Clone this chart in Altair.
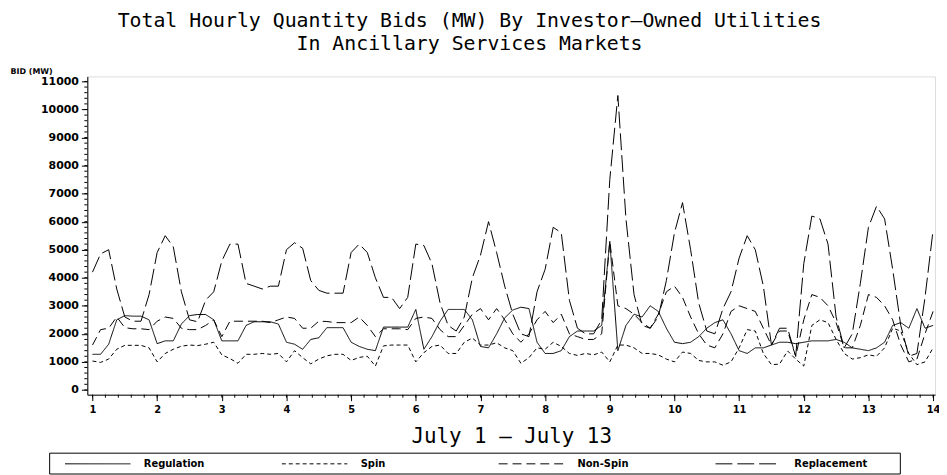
import altair as alt
import pandas as pd

# hour offsets from July 1 00:00 (3-hour sampling)
hours = list(range(0, 313, 3))

series_names = ["Regulation", "Spin", "Non-Spin", "Replacement"]

regulation = [1270, 1270, 1630, 2500, 2650, 2630, 2630, 2500, 1650, 1750,
              1750, 2350, 2650, 2690, 2690, 2500, 1750, 1750, 1750, 2300,
              2430, 2430, 2430, 2350, 1700, 1630, 1450, 1800, 1860, 2220,
              2220, 2220, 1700, 1550, 1450, 1400, 2240, 2240, 2240, 2240,
              2870, 1450, 1900, 2450, 2870, 2870, 2870, 2500, 1550, 1500,
              2000, 2570, 2850, 2950, 2900, 1700, 1300, 1300, 1400, 1900,
              2100, 2100, 2100, 2300, 5300, 1400, 2300, 2700, 2600, 3000,
              2800, 2200, 1700, 1650, 1700, 1900, 2200, 2400, 2500, 2000,
              1400, 1300, 1500, 1500, 1600, 1700, 1700, 1650, 1700, 1750,
              1750, 1750, 1800, 1700, 1500, 1450, 1400, 1500, 1700, 2300,
              2400, 2200, 2900, 2200, 2300]

spin = [1030, 980, 1100, 1450, 1590, 1590, 1590, 1500, 1000, 1300,
        1450, 1560, 1600, 1580, 1630, 1700, 1250, 1120, 950, 1270,
        1270, 1300, 1270, 1300, 1000, 1400, 1150, 930, 1100, 1215,
        1270, 1270, 1050, 1160, 1200, 850, 1570, 1600, 1600, 1600,
        1000, 1330, 1550, 1600, 1300, 1300, 1700, 1850, 1600, 1600,
        1680, 1500, 1400, 950, 1150, 1500, 1450, 1700, 1550, 1300,
        1230, 1300, 1250, 1350, 1000, 1600, 1600, 1500, 1300, 1300,
        1250, 1100, 1000, 1350, 1300, 1050, 1000, 1000, 880, 1000,
        1500, 2150, 2100, 1300, 900, 920, 1390, 1100, 850, 2300,
        2500, 2400, 1800, 1300, 1100, 1150, 1250, 1200, 1500, 2200,
        2100, 1300, 900, 1000, 1500]

non_spin = [1600, 2150, 2200, 2600, 2220, 2180, 2180, 2150, 2450, 2600,
            2550, 2200, 2150, 2150, 2300, 2500, 1900, 2450, 2450, 2450,
            2450, 2450, 2400, 2500, 2600, 2550, 2200, 2200, 2450, 2440,
            2400, 2400, 2400, 2600, 2300, 1900, 2180, 2180, 2180, 2150,
            2550, 2600, 2550, 2150, 1900, 1900, 2300, 2700, 2900, 2500,
            2900, 2500, 2000, 1700, 2000, 2500, 2800, 2400, 2700, 2000,
            1900, 1800, 1800, 2000, 5300, 3000, 2900, 2700, 2400, 2200,
            2700, 3500, 3700, 3300, 2600, 2000, 1600, 1500, 2000, 2800,
            3000, 2900, 2800, 2200, 1600, 2100, 2100, 1200, 2500, 3400,
            3300, 3000, 2400, 1500, 1500, 2300, 3400, 3300, 3000, 2500,
            1600, 1000, 1100, 2000, 2800]

replacement = [4200, 4850, 5000, 3600, 2600, 2450, 2450, 3400, 4900, 5500,
               5100, 3500, 2500, 2430, 3200, 3500, 4600, 5200, 5200, 3800,
               3700, 3600, 3700, 3700, 5000, 5250, 5050, 3900, 3550, 3450,
               3450, 3450, 4900, 5200, 4900, 4000, 3300, 3300, 2900, 3300,
               5200, 5150, 4500, 3100, 2300, 2100, 2600, 4000, 4800, 6000,
               4900, 3700, 2700, 2000, 1900, 3500, 4300, 5800, 5600, 3200,
               2200, 2000, 2000, 2500, 7500, 10500, 6100, 3400, 2300, 2200,
               2600, 3900, 5600, 6680, 5000, 3100, 2100, 2000, 2900, 3500,
               4700, 5500, 5000, 3700, 1600, 2200, 2200, 1200, 4500, 6200,
               6100, 5200, 2600, 1500, 2000, 3800, 5800, 6550, 6100, 4300,
               2300, 1200, 1300, 3300, 5700]

x_major = list(range(1, 15))
y_major = list(range(0, 11001, 1000))

rows = []
for name, vals in zip(series_names, [regulation, spin, non_spin, replacement]):
    for h, v in zip(hours, vals):
        rows.append({"day": 1 + h / 24, "bid": v, "series": name})
df = pd.DataFrame(rows)

x_scale = alt.Scale(domain=[0.92, 14.03], nice=False, zero=False)
y_scale = alt.Scale(domain=[-170, 11180], nice=False, zero=False)

W, H = 855, 321
MONO = "DejaVu Sans Mono"

x_axis = alt.Axis(values=x_major, format="d", title="July 1 \u2014 July 13",
                  titleFont=MONO, titleFontSize=21, titleFontWeight="normal",
                  titleY=48, titleBaseline="alphabetic", titleColor="black",
                  labelFont="DejaVu Sans", labelFontWeight="bold", labelFontSize=10,
                  labelColor="black", labelPadding=4, tickSize=6, tickColor="black",
                  domainColor="black", grid=False, labelFlush=False, labelOverlap=False)
y_axis = alt.Axis(values=y_major, format="d", title="BID (MW)",
                  titleAngle=0, titleX=-78, titleY=-3, titleAlign="left",
                  titleBaseline="alphabetic", titleFont="DejaVu Sans",
                  titleFontWeight="bold", titleFontSize=8, titleColor="black",
                  labelFont="DejaVu Sans", labelFontWeight="bold", labelFontSize=11,
                  labelColor="black", labelPadding=3, tickSize=6, tickColor="black",
                  domainColor="black", grid=False, labelFlush=False, labelOverlap=False)

lines = alt.Chart(df).mark_line(strokeWidth=1, color="black", strokeCap="butt").encode(
    x=alt.X("day:Q", scale=x_scale, axis=x_axis),
    y=alt.Y("bid:Q", scale=y_scale, axis=y_axis),
    strokeDash=alt.StrokeDash("series:N",
                              scale=alt.Scale(domain=series_names,
                                              range=[[1, 0], [4, 3], [9, 5], [17, 5]]),
                              legend=alt.Legend(orient="none", legendX=-23, legendY=357,
                                                direction="horizontal", columns=4,
                                                gridAlign="all", title=None,
                                                symbolType="stroke", symbolSize=4356,
                                                symbolStrokeWidth=1, symbolStrokeColor="black",
                                                labelFont="DejaVu Sans", labelFontWeight="bold",
                                                labelFontSize=10, labelColor="black",
                                                labelOffset=13, columnPadding=62.7,
                                                padding=0, labelLimit=300)),
)

y_minor = pd.DataFrame({"bid": list(range(0, 11001, 200))})
y_ticks = alt.Chart(y_minor).mark_rule(color="black", strokeWidth=1).encode(
    y=alt.Y("bid:Q", scale=y_scale, axis=y_axis), x=alt.value(-3), x2=alt.value(0))

x_minor = pd.DataFrame({"day": [1 + i * 0.2 for i in range(66)]})
x_ticks = alt.Chart(x_minor).mark_rule(color="black", strokeWidth=1).encode(
    x=alt.X("day:Q", scale=x_scale, axis=x_axis), y=alt.value(H), y2=alt.value(H + 3))

box = alt.Chart(pd.DataFrame({"k": [0]})).mark_rect(
    fill="white", fillOpacity=0, stroke="black", strokeWidth=1).encode(
    x=alt.value(-38), x2=alt.value(820), y=alt.value(380), y2=alt.value(401))

chart = alt.layer(box, lines, y_ticks, x_ticks).properties(
    width=W, height=H,
    title=alt.TitleParams(
        text=["Total Hourly Quantity Bids (MW) By Investor\u2013Owned Utilities",
              "In Ancillary Services Markets"],
        font=MONO, fontSize=20, fontWeight="normal", color="black",
        anchor="middle", frame="group", dx=-42, offset=14, lineHeight=23),
    autosize=alt.AutoSizeParams(type="none"),
    padding={"left": 80, "top": 67, "right": 4, "bottom": 79},
).configure_view(stroke=None).configure(background="white")

chart.save("out.html", embed_options={"renderer": "svg", "actions": False})
